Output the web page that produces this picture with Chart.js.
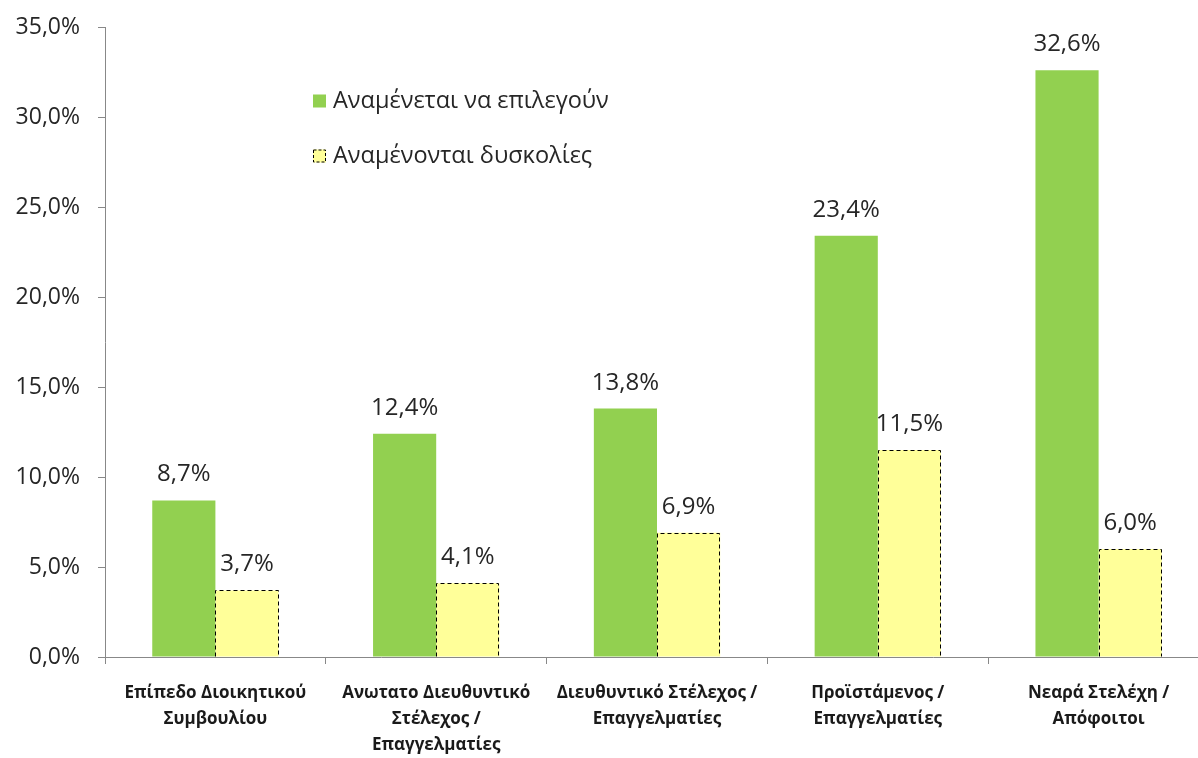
<!DOCTYPE html>
<html>
<head>
<meta charset="utf-8">
<script src="https://cdn.jsdelivr.net/npm/chart.js@4"></script>
<style>
html,body{margin:0;padding:0;background:#fff;overflow:hidden;}
#wrap{width:1209px;height:758px;}
</style>
</head>
<body>
<div id="wrap"><canvas id="c" width="1209" height="758"></canvas></div>
<script>
const categories = [
  ["Επίπεδο Διοικητικού", "Συμβουλίου"],
  ["Ανωτατο Διευθυντικό", "Στέλεχος /", "Επαγγελματίες"],
  ["Διευθυντικό Στέλεχος /", "Επαγγελματίες"],
  ["Προϊστάμενος /", "Επαγγελματίες"],
  ["Νεαρά Στελέχη /", "Απόφοιτοι"]
];
const seriesNames = ["Αναμένεται να επιλεγούν", "Αναμένονται δυσκολίες"];
const expectedChoice = [8.7, 12.4, 13.8, 23.4, 32.6];
const expectedDifficulty = [3.7, 4.1, 6.9, 11.5, 6.0];
const yTicks = [0, 5, 10, 15, 20, 25, 30, 35];

const FONT = "'Open Sans', 'DejaVu Sans', sans-serif";
const fmt = v => v.toFixed(1).replace('.', ',') + '%';

const dashedBorders = {
  id: 'dashedBorders',
  afterDatasetsDraw(chart) {
    const ctx = chart.ctx;
    ctx.save();
    chart.data.datasets.forEach((ds, i) => {
      if (!ds.dashedOutline) return;
      chart.getDatasetMeta(i).data.forEach(el => {
        const p = el.getProps(['x', 'y', 'base', 'width'], true);
        const l = Math.round(p.x - p.width / 2) + 0.5;
        const r = Math.round(p.x + p.width / 2) - 0.5;
        const t = Math.round(p.y) + 0.5;
        const b = Math.round(p.base) - 0.5;
        ctx.strokeStyle = '#000';
        ctx.lineWidth = 1;
        ctx.setLineDash([4, 3]);
        ctx.beginPath();
        ctx.moveTo(l, b);
        ctx.lineTo(l, t);
        ctx.lineTo(r, t);
        ctx.lineTo(r, b);
        ctx.stroke();
      });
    });
    ctx.restore();
  }
};

const valueLabels = {
  id: 'valueLabels',
  afterDatasetsDraw(chart) {
    const ctx = chart.ctx;
    ctx.save();
    ctx.font = "24px " + FONT;
    ctx.fillStyle = '#262626';
    ctx.textAlign = 'center';
    ctx.textBaseline = 'alphabetic';
    chart.data.datasets.forEach((ds, i) => {
      chart.getDatasetMeta(i).data.forEach((el, j) => {
        ctx.fillText(fmt(ds.data[j]), el.x, el.y - 19);
      });
    });
    ctx.restore();
  }
};

const innerLegend = {
  id: 'innerLegend',
  afterDraw(chart) {
    const ctx = chart.ctx;
    ctx.save();
    ctx.font = "23.5px " + FONT;
    ctx.textBaseline = 'middle';
    const x0 = 313, ys = [101, 156];
    chart.data.datasets.forEach((ds, i) => {
      const y = ys[i];
      ctx.fillStyle = ds.backgroundColor;
      ctx.fillRect(x0, y - 6.5, 13, 13);
      if (ds.dashedOutline) {
        ctx.strokeStyle = '#000';
        ctx.lineWidth = 1;
        ctx.setLineDash([3, 2]);
        ctx.strokeRect(x0 + 0.5, y - 6, 12, 12);
        ctx.setLineDash([]);
      }
      ctx.fillStyle = '#262626';
      ctx.fillText(ds.label, x0 + 20, y);
    });
    ctx.restore();
  }
};

new Chart(document.getElementById('c'), {
  type: 'bar',
  data: {
    labels: categories,
    datasets: [
      {
        label: seriesNames[0],
        data: expectedChoice,
        backgroundColor: '#92D050',
        borderWidth: 0
      },
      {
        label: seriesNames[1],
        data: expectedDifficulty,
        backgroundColor: '#FFFF99',
        borderWidth: 0,
        dashedOutline: true
      }
    ]
  },
  options: {
    responsive: false,
    animation: false,
    layout: { padding: { top: 27, right: 0, left: 0, bottom: 0 } },
    datasets: { bar: { categoryPercentage: 0.572, barPercentage: 1.0 } },
    plugins: { legend: { display: false }, tooltip: { enabled: false } },
    scales: {
      x: {
        offset: true,
        grid: { offset: true, drawOnChartArea: false, drawTicks: true, tickLength: 7, color: '#888888' },
        border: { display: true, color: '#888888', width: 1 },
        ticks: {
          font: { family: FONT, size: 17, weight: 'bold', lineHeight: 1.53 },
          color: '#1a1a1a',
          padding: 16,
          maxRotation: 0,
          autoSkip: false
        },
        afterFit(scale) { scale.height = 101; scale.paddingLeft = 0; scale.paddingRight = 0; }
      },
      y: {
        min: 0,
        max: 35,
        afterBuildTicks(scale) { scale.ticks = yTicks.map(v => ({ value: v })); },
        grid: { drawOnChartArea: false, drawTicks: true, tickLength: 7, color: '#888888' },
        border: { display: true, color: '#888888', width: 1 },
        ticks: {
          font: { family: FONT, size: 23 },
          color: '#262626',
          padding: 18,
          callback: v => fmt(v)
        },
        afterFit(scale) { scale.width = 105; scale.paddingTop = 0; scale.paddingBottom = 0; }
      }
    }
  },
  plugins: [dashedBorders, valueLabels, innerLegend]
});
</script>
</body>
</html>
